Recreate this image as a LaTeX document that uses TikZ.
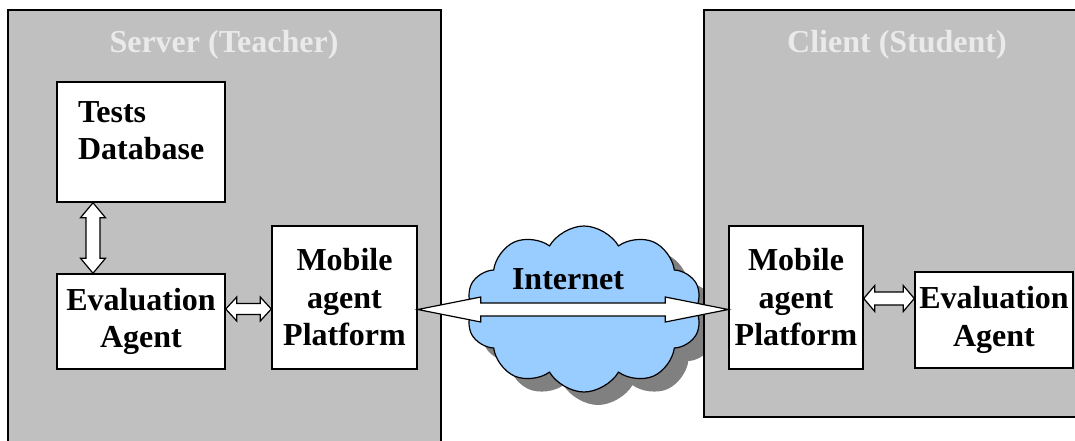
\documentclass[tikz,border=0pt]{standalone}
\usepackage{fontspec}
\setmainfont{Liberation Serif}
\usetikzlibrary{shapes.symbols,calc}
\definecolor{panel}{RGB}{192,192,192}
\definecolor{cloudblue}{RGB}{153,204,255}
\definecolor{shade}{RGB}{128,128,128}
\definecolor{titlegray}{RGB}{234,234,234}
\tikzset{
  panelbox/.style={draw=black, line width=1.5pt, fill=panel, inner sep=0pt, rectangle},
  block/.style={draw=black, line width=1.5pt, fill=white, inner sep=2pt, align=center,
    font=\bfseries\fontsize{32}{37.5}\selectfont},
  titletext/.style={text=titlegray, font=\bfseries\fontsize{32}{37.5}\selectfont, anchor=base, inner sep=0pt},
  nettext/.style={text=black, font=\bfseries\fontsize{32}{37.5}\selectfont, anchor=base, inner sep=0pt},
  hollow/.style={draw=black, line width=1.2pt, fill=white, line join=miter},
  netcloud/.style={cloud, cloud puffs=10, cloud puff arc=120, aspect=1.42,
    minimum width=236, minimum height=166, inner sep=0pt},
}
% horizontal hollow double arrow: from, to, shaft half, head half, head length
\newcommand\harr[5]{%
  \draw[hollow] let \p1=(#1), \p2=(#2) in
    (\x1,\y1) -- (\x1+#5,\y1+#4) -- (\x1+#5,\y1+#3) -- (\x2-#5,\y2+#3) -- (\x2-#5,\y2+#4) -- (\x2,\y2)
    -- (\x2-#5,\y2-#4) -- (\x2-#5,\y2-#3) -- (\x1+#5,\y1-#3) -- (\x1+#5,\y1-#4) -- cycle;}
% vertical hollow double arrow: from (top), to (bottom), shaft half, head half, head length
\newcommand\varr[5]{%
  \draw[hollow] let \p1=(#1), \p2=(#2) in
    (\x1,\y1) -- (\x1+#4,\y1-#5) -- (\x1+#3,\y1-#5) -- (\x2+#3,\y2+#5) -- (\x2+#4,\y2+#5) -- (\x2,\y2)
    -- (\x2-#4,\y2+#5) -- (\x2-#3,\y2+#5) -- (\x1-#3,\y1-#5) -- (\x1-#4,\y1-#5) -- cycle;}
\begin{document}
\begin{tikzpicture}[x=1pt, y=-1pt]
  \useasboundingbox (0,0) rectangle (1075,440);
  % containers
  \node[panelbox, minimum width=433, minimum height=450] (server) at (224.5,235) {};
  \node[fill=shade, netcloud] (netshadow) at (598,322) {};
  \node[panelbox, minimum width=381, minimum height=407] (client) at (894.5,213.5) {};
  \node[titletext] (stitle) at (224,52) {Server (Teacher)};
  \node[titletext] (ctitle) at (897,52) {Client (Student)};
  % cloud
  \node[draw=black, line width=1.2pt, fill=cloudblue, netcloud] (net) at (584,309) {};
  % blocks
  \node[block, align=left, text width=126, inner xsep=21pt, inner ysep=0pt, minimum height=120,
    text height=38pt, text depth=78pt] (tests) at (141,142) {Tests\\Database};
  \node[block, minimum width=168, minimum height=95] (seval) at (141,321.5) {Evaluation\\Agent};
  \node[block, minimum width=145, minimum height=143] (smob) at (344.5,297.5) {Mobile\\agent\\Platform};
  \node[block, minimum width=134, minimum height=143] (cmob) at (796,297.5) {Mobile\\agent\\Platform};
  \node[block, minimum width=158, minimum height=96] (ceval) at (994,320) {Evaluation\\Agent};
  % connector end points
  \coordinate (v1) at ($(tests.south)+(-48,0)$);
  \coordinate (v2) at ($(seval.north)+(-48,0)$);
  \coordinate (h1) at ($(seval.east)+(0,-12.5)$);
  \coordinate (h2) at ($(smob.west)+(0,11.5)$);
  \coordinate (b1) at ($(smob.east)+(0,12)$);
  \coordinate (b2) at ($(cmob.west)+(0,12)$);
  \coordinate (c1) at ($(cmob.east)+(0,1)$);
  \coordinate (c2) at ($(ceval.west)+(0,-21.5)$);
  % connectors
  \varr{v1}{v2}{7}{12.5}{15}
  \harr{h1}{h2}{5.5}{12}{11}
  \harr{b1}{b2}{6.5}{12.5}{63}
  \harr{c1}{c2}{6.5}{13}{11}
  \node[nettext] (netlabel) at (568,289) {Internet};
\end{tikzpicture}
\end{document}
